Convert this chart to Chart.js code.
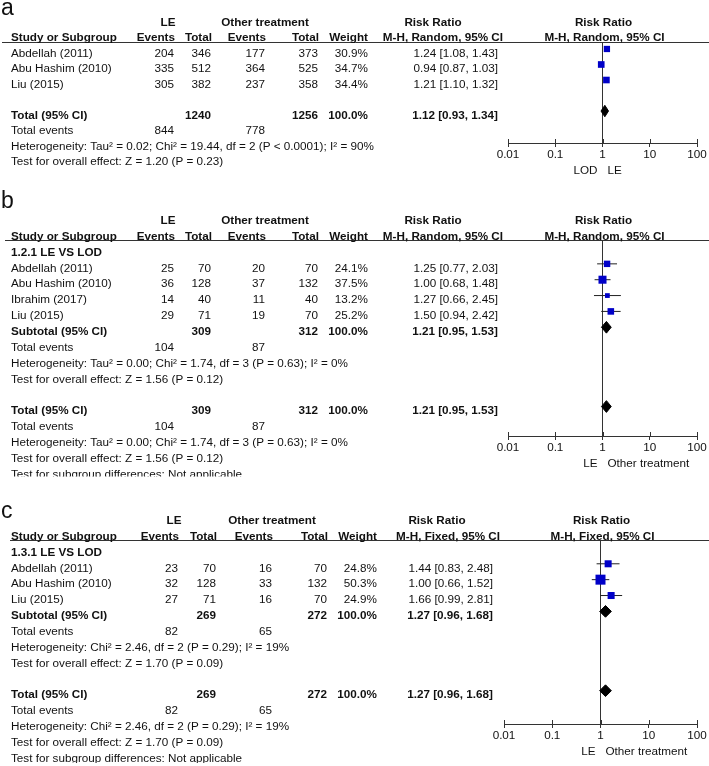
<!DOCTYPE html>
<html lang="en">
<head>
<meta charset="UTF-8">
<title>Forest plots: LE vs other treatment</title>
<script src="https://cdn.jsdelivr.net/npm/chart.js"></script>
<style>
  body { margin: 0; background: #fff; }
  #page { position: relative; width: 709px; height: 766px; overflow: hidden; background: #fff; }
  #page canvas { position: absolute; left: 0; }
</style>
</head>
<body>
<div id="page">
  <canvas id="plotA" width="709" height="185" style="top:0px"></canvas>
  <canvas id="plotB" width="709" height="305" style="top:185px"></canvas>
  <canvas id="plotC" width="709" height="276" style="top:490px"></canvas>
</div>

<script>
// axis
const xTickValues = [0.01, 0.1, 1, 10, 100];
const xTickLabels = ['0.01', '0.1', '1', '10', '100'];

// panel a
const studiesA = ['Abdellah (2011)', 'Abu Hashim (2010)', 'Liu (2015)'];
const leEventsA = [204, 335, 305];
const leTotalA = [346, 512, 382];
const otEventsA = [177, 364, 237];
const otTotalA = [373, 525, 358];
const weightA = [30.9, 34.7, 34.4];
const rrA = [1.24, 0.94, 1.21];
const lowA = [1.08, 0.87, 1.10];
const highA = [1.43, 1.03, 1.32];
const pooledA = [1.12, 0.93, 1.34];      // estimate, low, high
const sumTotalsA = [1240, 1256];
const sumEventsA = [844, 778];
const hetA = 'Heterogeneity: Tau\u00b2 = 0.02; Chi\u00b2 = 19.44, df = 2 (P < 0.0001); I\u00b2 = 90%';
const effectA = 'Test for overall effect: Z = 1.20 (P = 0.23)';

// panel b
const studiesB = ['Abdellah (2011)', 'Abu Hashim (2010)', 'Ibrahim (2017)', 'Liu (2015)'];
const leEventsB = [25, 36, 14, 29];
const leTotalB = [70, 128, 40, 71];
const otEventsB = [20, 37, 11, 19];
const otTotalB = [70, 132, 40, 70];
const weightB = [24.1, 37.5, 13.2, 25.2];
const rrB = [1.25, 1.00, 1.27, 1.50];
const lowB = [0.77, 0.68, 0.66, 0.94];
const highB = [2.03, 1.48, 2.45, 2.42];
const pooledB = [1.21, 0.95, 1.53];
const sumTotalsB = [309, 312];
const sumEventsB = [104, 87];
const hetB = 'Heterogeneity: Tau\u00b2 = 0.00; Chi\u00b2 = 1.74, df = 3 (P = 0.63); I\u00b2 = 0%';
const effectB = 'Test for overall effect: Z = 1.56 (P = 0.12)';

// panel c
const studiesC = ['Abdellah (2011)', 'Abu Hashim (2010)', 'Liu (2015)'];
const leEventsC = [23, 32, 27];
const leTotalC = [70, 128, 71];
const otEventsC = [16, 33, 16];
const otTotalC = [70, 132, 70];
const weightC = [24.8, 50.3, 24.9];
const rrC = [1.44, 1.00, 1.66];
const lowC = [0.83, 0.66, 0.99];
const highC = [2.48, 1.52, 2.81];
const pooledC = [1.27, 0.96, 1.68];
const sumTotalsC = [269, 272];
const sumEventsC = [82, 65];
const hetC = 'Heterogeneity: Chi\u00b2 = 2.46, df = 2 (P = 0.29); I\u00b2 = 19%';
const effectC = 'Test for overall effect: Z = 1.70 (P = 0.09)';

const FONT = '"Liberation Sans", Arial, sans-serif';
const FS = 11.7;
const TEXT = '#111';
const LINE = '#333';
const BOX = '#0000c8';
const TEXT_DY = 4.5;

// column positions (right edges) for the table part
const colsAB = { ev1: 174, tot1: 211, ev2: 265, tot2: 318, w: 368, rr: 498, le: 168, ot: 265, rrHead: 433, mh: 503 };
const colsC  = { ev1: 178, tot1: 216, ev2: 272, tot2: 327, w: 377, rr: 493, le: 174, ot: 272, rrHead: 437, mh: 500 };

const fmtRR = (v, lo, hi) => v.toFixed(2) + ' [' + lo.toFixed(2) + ', ' + hi.toFixed(2) + ']';

function studyRows(items, cols, first, names, e1, t1, e2, t2, w, rr, lo, hi) {
    names.forEach((n, i) => {
        const r = first + i;
        items.push({ t: n, x: 11, r: r, a: 'left' });
        items.push({ t: e1[i], x: cols.ev1, r: r, a: 'right' });
        items.push({ t: t1[i], x: cols.tot1, r: r, a: 'right' });
        items.push({ t: e2[i], x: cols.ev2, r: r, a: 'right' });
        items.push({ t: t2[i], x: cols.tot2, r: r, a: 'right' });
        items.push({ t: w[i].toFixed(1) + '%', x: cols.w, r: r, a: 'right' });
        items.push({ t: fmtRR(rr[i], lo[i], hi[i]), x: cols.rr, r: r, a: 'right' });
    });
}

function summaryRows(items, cols, r, label, totals, events, pooled, het, effect) {
    items.push({ t: label, x: 11, r: r, a: 'left', b: true });
    items.push({ t: totals[0], x: cols.tot1, r: r, a: 'right', b: true });
    items.push({ t: totals[1], x: cols.tot2, r: r, a: 'right', b: true });
    items.push({ t: '100.0%', x: cols.w, r: r, a: 'right', b: true });
    items.push({ t: fmtRR(pooled[0], pooled[1], pooled[2]), x: cols.rr, r: r, a: 'right', b: true });
    items.push({ t: 'Total events', x: 11, r: r + 1, a: 'left' });
    items.push({ t: events[0], x: cols.ev1, r: r + 1, a: 'right' });
    items.push({ t: events[1], x: cols.ev2, r: r + 1, a: 'right' });
    items.push({ t: het, x: 11, r: r + 2, a: 'left' });
    items.push({ t: effect, x: 11, r: r + 3, a: 'left' });
}

function headerRows(items, cols, method) {
    items.push({ t: 'LE', x: cols.le, r: -2, a: 'center', b: true });
    items.push({ t: 'Other treatment', x: cols.ot, r: -2, a: 'center', b: true });
    items.push({ t: 'Risk Ratio', x: cols.rrHead, r: -2, a: 'center', b: true });
    items.push({ t: 'Study or Subgroup', x: 11, r: -1, a: 'left', b: true });
    items.push({ t: 'Events', x: cols.ev1 + 1, r: -1, a: 'right', b: true });
    items.push({ t: 'Total', x: cols.tot1 + 1, r: -1, a: 'right', b: true });
    items.push({ t: 'Events', x: cols.ev2 + 1, r: -1, a: 'right', b: true });
    items.push({ t: 'Total', x: cols.tot2 + 1, r: -1, a: 'right', b: true });
    items.push({ t: 'Weight', x: cols.w, r: -1, a: 'right', b: true });
    items.push({ t: method, x: cols.mh, r: -1, a: 'right', b: true });
}

// panel a table
const itemsA = [];
headerRows(itemsA, colsAB, 'M-H, Random, 95% CI');
studyRows(itemsA, colsAB, 0, studiesA, leEventsA, leTotalA, otEventsA, otTotalA, weightA, rrA, lowA, highA);
summaryRows(itemsA, colsAB, 4, 'Total (95% CI)', sumTotalsA, sumEventsA, pooledA, hetA, effectA);

// panel b table
const itemsB = [];
headerRows(itemsB, colsAB, 'M-H, Random, 95% CI');
itemsB.push({ t: '1.2.1 LE VS LOD', x: 11, r: 0, a: 'left', b: true });
studyRows(itemsB, colsAB, 1, studiesB, leEventsB, leTotalB, otEventsB, otTotalB, weightB, rrB, lowB, highB);
summaryRows(itemsB, colsAB, 5, 'Subtotal (95% CI)', sumTotalsB, sumEventsB, pooledB, hetB, effectB);
summaryRows(itemsB, colsAB, 10, 'Total (95% CI)', sumTotalsB, sumEventsB, pooledB, hetB, effectB);
itemsB.push({ t: 'Test for subgroup differences: Not applicable', x: 11, r: 14, a: 'left' });

// panel c table
const itemsC = [];
headerRows(itemsC, colsC, 'M-H, Fixed, 95% CI');
itemsC.push({ t: '1.3.1 LE VS LOD', x: 11, r: 0, a: 'left', b: true });
studyRows(itemsC, colsC, 1, studiesC, leEventsC, leTotalC, otEventsC, otTotalC, weightC, rrC, lowC, highC);
summaryRows(itemsC, colsC, 4, 'Subtotal (95% CI)', sumTotalsC, sumEventsC, pooledC, hetC, effectC);
summaryRows(itemsC, colsC, 9, 'Total (95% CI)', sumTotalsC, sumEventsC, pooledC, hetC, effectC);
itemsC.push({ t: 'Test for subgroup differences: Not applicable', x: 11, r: 13, a: 'left' });

const panels = [
    { id: 'plotA', letter: 'a', letterY: 15, top: 0, height: 185, lineY: 42, axisY: 143, left: 508, right: 697,
      rowTop: -0.45, rowBottom: 6.06, ruleStart: 2, clipBottom: 185, boxScale: 1.13,
      method: 'M-H, Random, 95% CI', fav: ['LOD', 'LE'], items: itemsA,
      first: 0, rr: rrA, low: lowA, high: highA, weight: weightA, diamonds: [[4, pooledA]] },
    { id: 'plotB', letter: 'b', letterY: 208, top: 185, height: 305, lineY: 240, axisY: 436, left: 508, right: 697,
      rowTop: -0.505, rowBottom: 11.86, ruleStart: 5, clipBottom: 476.5, boxScale: 1.31,
      method: 'M-H, Random, 95% CI', fav: ['LE', 'Other treatment'], items: itemsB,
      first: 1, rr: rrB, low: lowB, high: highB, weight: weightB, diamonds: [[5, pooledB], [10, pooledB]] },
    { id: 'plotC', letter: 'c', letterY: 518, top: 490, height: 276, lineY: 540, axisY: 724, left: 504, right: 697,
      rowTop: -0.5, rowBottom: 11.1, ruleStart: 10, clipBottom: 763, boxScale: 1.41,
      method: 'M-H, Fixed, 95% CI', fav: ['LE', 'Other treatment'], items: itemsC,
      first: 1, rr: rrC, low: lowC, high: highC, weight: weightC, diamonds: [[4, pooledC], [9, pooledC]] }
];

const TICK_LEN = 4, TICK_PAD = 1;
const AXIS_H = TICK_LEN + FS * 1.2 + 2 * TICK_PAD;
const DIAMOND_H = 0.37;

function tablePlugin(p) {
    return {
        id: 'forestTable',
        afterDraw(chart) {
            const ctx = chart.ctx, xs = chart.scales.x, ys = chart.scales.y, area = chart.chartArea;
            const x1 = xs.getPixelForValue(1);
            ctx.save();
            ctx.beginPath();
            ctx.rect(0, 0, chart.width, p.clipBottom - p.top);
            ctx.clip();

            // header rule across the whole width
            ctx.strokeStyle = LINE;
            ctx.lineWidth = 1;
            ctx.beginPath();
            ctx.moveTo(p.ruleStart, area.top + 0.5);
            ctx.lineTo(chart.width, area.top + 0.5);
            // upper half of the axis tick marks
            xTickValues.forEach(v => {
                const x = Math.round(xs.getPixelForValue(v)) + 0.5;
                ctx.moveTo(x, area.bottom - TICK_LEN);
                ctx.lineTo(x, area.bottom);
            });
            ctx.stroke();

            ctx.fillStyle = TEXT;
            ctx.font = '23px ' + FONT;
            ctx.textAlign = 'left';
            ctx.textBaseline = 'alphabetic';
            ctx.fillText(p.letter, 1, p.letterY - p.top);

            ctx.textBaseline = 'middle';
            p.items.forEach(it => {
                ctx.font = (it.b ? 'bold ' : '') + FS + 'px ' + FONT;
                ctx.textAlign = it.a;
                ctx.fillText(String(it.t), it.x, ys.getPixelForValue(it.r) + TEXT_DY);
            });

            // plot column header
            ctx.font = 'bold ' + FS + 'px ' + FONT;
            ctx.textAlign = 'center';
            ctx.fillText('Risk Ratio', x1 + 1, ys.getPixelForValue(-2) + TEXT_DY);
            ctx.fillText(p.method, x1 + 2, ys.getPixelForValue(-1) + TEXT_DY);

            // favours labels
            ctx.font = FS + 'px ' + FONT;
            ctx.textAlign = 'right';
            ctx.fillText(p.fav[0], x1 - 5, area.bottom + 28);
            ctx.textAlign = 'left';
            ctx.fillText(p.fav[1], x1 + 5, area.bottom + 28);
            ctx.restore();
        }
    };
}

function makeChart(p) {
    const datasets = [];
    // study boxes, side grows with sqrt(weight)
    datasets.push({
        data: p.rr.map((v, i) => ({ x: v, y: p.first + i })),
        pointStyle: 'rect',
        pointRadius: p.weight.map(w => Math.sqrt(w) * p.boxScale / Math.SQRT2),
        backgroundColor: BOX,
        borderColor: BOX,
        borderWidth: 0,
        order: 0
    });
    // confidence intervals
    p.rr.forEach((v, i) => {
        datasets.push({
            data: [{ x: p.low[i], y: p.first + i }, { x: p.high[i], y: p.first + i }],
            showLine: true,
            borderColor: '#222',
            borderWidth: 1,
            pointRadius: 0,
            order: 1
        });
    });
    // pooled diamonds
    p.diamonds.forEach(([r, d]) => {
        datasets.push({
            data: [
                { x: d[1], y: r }, { x: d[0], y: r - DIAMOND_H },
                { x: d[2], y: r }, { x: d[0], y: r + DIAMOND_H }, { x: d[1], y: r }
            ],
            showLine: true,
            fill: 'shape',
            backgroundColor: '#000',
            borderColor: '#000',
            borderWidth: 1,
            pointRadius: 0,
            order: 0
        });
    });
    // line of no effect
    datasets.push({
        data: [{ x: 1, y: p.rowTop }, { x: 1, y: p.rowBottom }],
        showLine: true,
        borderColor: LINE,
        borderWidth: 1,
        pointRadius: 0,
        order: 2
    });

    return new Chart(document.getElementById(p.id), {
        type: 'scatter',
        data: { datasets: datasets },
        options: {
            responsive: false,
            animation: false,
            events: [],
            layout: {
                padding: {
                    left: p.left,
                    right: 709 - p.right,
                    top: p.lineY - p.top,
                    bottom: p.top + p.height - p.axisY - AXIS_H
                }
            },
            plugins: { legend: { display: false }, tooltip: { enabled: false } },
            scales: {
                x: {
                    type: 'logarithmic',
                    min: 0.01,
                    max: 100,
                    afterBuildTicks: s => { s.ticks = xTickValues.map(v => ({ value: v })); },
                    ticks: {
                        autoSkip: false,
                        maxRotation: 0,
                        padding: TICK_PAD,
                        color: TEXT,
                        font: { family: FONT, size: FS },
                        callback: (v, i) => xTickLabels[i]
                    },
                    grid: { drawOnChartArea: false, drawTicks: true, tickLength: TICK_LEN, color: LINE },
                    border: { display: true, color: LINE, width: 1 }
                },
                y: {
                    type: 'linear',
                    display: false,
                    reverse: true,
                    min: p.rowTop,
                    max: p.rowBottom
                }
            }
        },
        plugins: [tablePlugin(p)]
    });
}

panels.forEach(makeChart);
</script>
</body>
</html>
